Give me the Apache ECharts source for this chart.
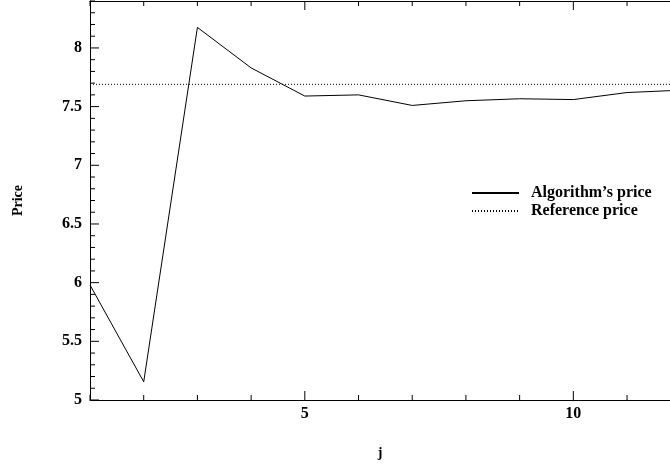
<!DOCTYPE html>
<html>
<head>
<meta charset="utf-8">
<script src="https://cdn.jsdelivr.net/npm/echarts@6/dist/echarts.min.js"></script>
<style>html,body{margin:0;padding:0;background:#fff}#c{width:670px;height:465px}</style>
</head>
<body>
<div id="c"></div>
<script>
var jValues = [1, 2, 3, 4, 5, 6, 7, 8, 9, 10, 11, 12];
var algorithmPrice = [5.98, 5.155, 8.175, 7.83, 7.59, 7.60, 7.51, 7.55, 7.567, 7.56, 7.62, 7.64];
var referencePrice = 7.69;
var xTickLabels = [5, 10];
var yRange = [5, 8.4];
var xRange = [1, 11.8];

var font = 'Liberation Serif';
var nameTxt = {fontFamily: font, fontWeight: 'bold', fontSize: 14, color: '#000'};

var algData = jValues.map(function (j, i) { return [j, algorithmPrice[i]]; });
var refData = [[xRange[0], referencePrice], [jValues[jValues.length - 1], referencePrice]];

// tick positions: every 1 on x, every 0.1 on y
var xTicks = [];
for (var x = 1; x <= 11; x++) xTicks.push(x);
var yTicks = [];
for (var k = 50; k <= 84; k++) yTicks.push(k / 10);

// [x, y, length, dx, dy]
var tickData = [];
yTicks.forEach(function (v) {
  var major = Math.abs(v * 2 - Math.round(v * 2)) < 1e-6;
  tickData.push([xRange[0], v, major ? 9 : 5, 1, 0]);
});
xTicks.forEach(function (v) {
  var major = v % 5 === 0;
  tickData.push([v, yRange[0], major ? 9 : 5, 0, -1]);
  tickData.push([v, yRange[1], major ? 9 : 5, 0, 1]);
});

var chart = echarts.init(document.getElementById('c'));
chart.setOption({
  animation: false,
  backgroundColor: '#fff',
  grid: {left: 90, right: 0, top: 1, bottom: 64},
  xAxis: [
    {
      type: 'value', position: 'bottom', min: xRange[0], max: xRange[1], interval: 1,
      name: 'j', nameLocation: 'middle', nameGap: 46, nameTextStyle: nameTxt,
      axisLine: {show: true, onZero: false, lineStyle: {color: '#000', width: 1}},
      axisTick: {show: false},
      axisLabel: {show: true, customValues: xTickLabels, margin: 6, fontFamily: font, fontWeight: 'bold', fontSize: 16, color: '#000'},
      splitLine: {show: false}
    },
    {
      type: 'value', position: 'top', min: xRange[0], max: xRange[1], interval: 1,
      axisLine: {show: true, onZero: false, lineStyle: {color: '#000', width: 1}},
      axisTick: {show: false}, axisLabel: {show: false}, splitLine: {show: false}
    }
  ],
  yAxis: [
    {
      type: 'value', position: 'left', min: yRange[0], max: yRange[1], interval: 0.5,
      name: 'Price', nameLocation: 'middle', nameGap: 65, nameTextStyle: nameTxt,
      axisLine: {show: true, onZero: false, lineStyle: {color: '#000', width: 1}},
      axisTick: {show: false},
      axisLabel: {margin: 8, fontFamily: font, fontWeight: 'bold', fontSize: 16, color: '#000',
        formatter: function (v) { return v > 8.35 ? '' : String(v); }},
      splitLine: {show: false}
    }
  ],
  legend: {
    left: 471, top: 185, orient: 'vertical', padding: 0, itemWidth: 47, itemHeight: 14, itemGap: 2,
    itemStyle: {color: 'rgba(0,0,0,0)', borderWidth: 0},
    textStyle: {fontFamily: font, fontWeight: 'bold', fontSize: 16, color: '#000', padding: [0, 0, 0, 7]},
    data: ['Algorithm\u2019s price', 'Reference price']
  },
  series: [
    {name: 'Algorithm\u2019s price', type: 'line', data: algData, symbol: 'none',
      lineStyle: {color: '#000', width: 1}, itemStyle: {color: '#000'}},
    {name: 'Reference price', type: 'line', data: refData, symbol: 'none',
      lineStyle: {color: '#000', width: 1, type: [1, 2]}, itemStyle: {color: '#000'}},
    {
      type: 'custom', name: 'ticks',
      data: tickData,
      renderItem: function (params, api) {
        var p = api.coord([api.value(0), api.value(1)]);
        var len = api.value(2), dx = api.value(3), dy = api.value(4);
        return {type: 'line',
          shape: {x1: p[0], y1: p[1], x2: p[0] + dx * len, y2: p[1] + dy * len},
          style: {stroke: '#000', lineWidth: 1}};
      }
    }
  ]
});
</script>
</body>
</html>
